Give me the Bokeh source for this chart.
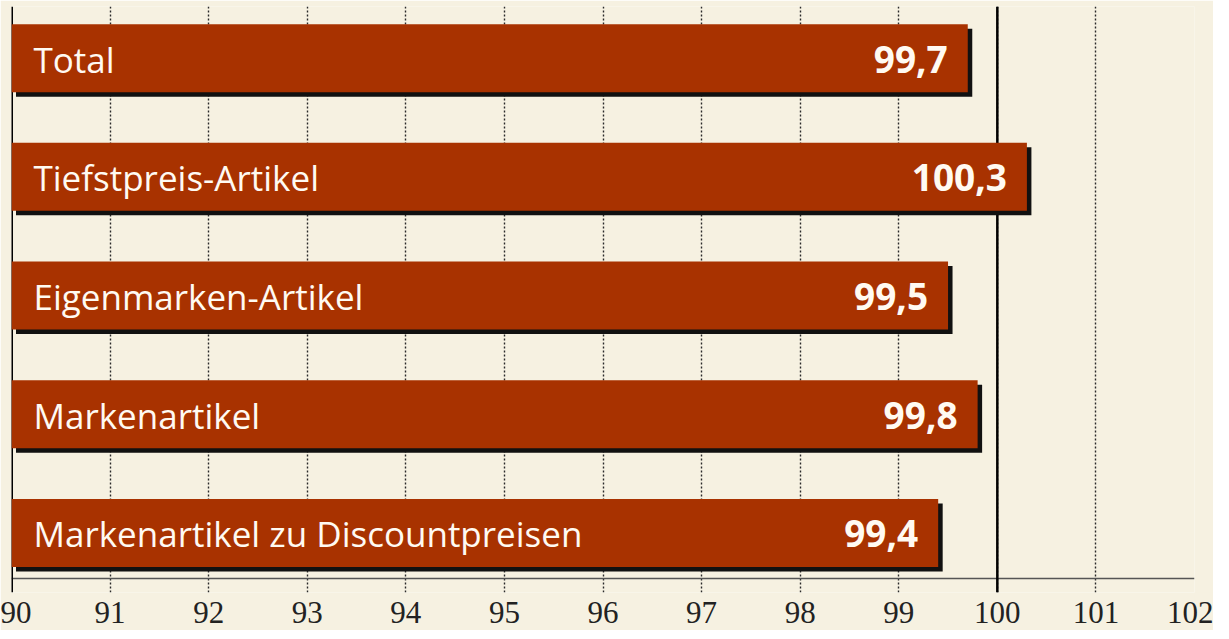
from bokeh.plotting import figure
from bokeh.models import Range1d, Span, FixedTicker, ColumnDataSource
from bokeh.core.properties import value
from bokeh.embed import file_html
from bokeh.resources import INLINE

categories = ["Total", "Tiefstpreis-Artikel", "Eigenmarken-Artikel",
              "Markenartikel", "Markenartikel zu Discountpreisen"]
values = [99.7, 100.3, 99.5, 99.8, 99.4]
value_labels = ["99,7", "100,3", "99,5", "99,8", "99,4"]
x_ticks = list(range(90, 103))
base = 90
reference = 100

BG = "#f6f1e1"
BAR = "#a83200"

n = len(categories)
ypos = [n - 1 - i for i in range(n)]

# pixel geometry helpers
frame_w, frame_h = 1183, 586
x0, x1 = 90, 102
px_x = (x1 - x0) / frame_w
y_start, y_end = -0.502, 4.435
px_y = (y_end - y_start) / frame_h
bar_h = 68 * px_y
shadow_dx = 4.5 * px_x
shadow_dy = 4.5 * px_y

src = ColumnDataSource(dict(
    y=ypos, right=values, cat=categories, lab=value_labels,
    ys=[v - shadow_dy for v in ypos],
    rs=[v + shadow_dx for v in values],
    xbase=[base] * n,
    lefts=[base + shadow_dx] * n,
))

p = figure(frame_width=frame_w, frame_height=frame_h,
           x_range=Range1d(x0, x1), y_range=Range1d(y_start, y_end),
           output_backend="svg", toolbar_location=None,
           min_border_left=11, min_border_right=19, min_border_top=6,
           min_border_bottom=38)
p.background_fill_color = BG
p.border_fill_color = BG
p.outline_line_color = None

p.yaxis.visible = False
p.ygrid.visible = False
p.xgrid.ticker = FixedTicker(ticks=x_ticks)
p.xgrid.grid_line_color = "#2a2a2a"
p.xgrid.grid_line_dash = "2 2"
p.xgrid.grid_line_width = 1.4

ax = p.xaxis[0]
ax.ticker = FixedTicker(ticks=x_ticks)
ax.axis_line_color = None
ax.major_tick_line_color = None
ax.minor_tick_line_color = None
ax.major_label_standoff = 3
ax.major_label_text_font = "Liberation Serif"
ax.major_label_text_font_size = "31px"
ax.major_label_text_color = "#222222"

# axis baseline drawn across the frame near its bottom
p.add_layout(Span(location=y_start + 14 * px_y, dimension="width",
                  line_color="#555555", line_width=1.5, level="underlay"))
p.add_layout(Span(location=base, dimension="height", line_color="#000000",
                  line_width=3, level="underlay"))
p.add_layout(Span(location=reference, dimension="height", line_color="#000000",
                  line_width=2.5, level="underlay"))

# shadows
p.hbar(y="ys", left="lefts", right="rs", height=bar_h, source=src,
       fill_color="#111111", line_color=None)
# bars
p.hbar(y="y", left="xbase", right="right", height=bar_h, source=src,
       fill_color=BAR, line_color=None)

p.text(x="xbase", y="y", text="cat", source=src, x_offset=22, y_offset=1,
       text_font=value("Open Sans"), text_font_size="35px",
       text_color="#fffaf2", text_baseline="middle", text_align="left")
p.text(x="right", y="y", text="lab", source=src, x_offset=-20, y_offset=1,
       text_font=value("Open Sans"), text_font_size="37px", text_font_style="bold",
       text_color="#fffaf2", text_baseline="middle", text_align="right")

open("out.html", "w").write(file_html(p, INLINE))
